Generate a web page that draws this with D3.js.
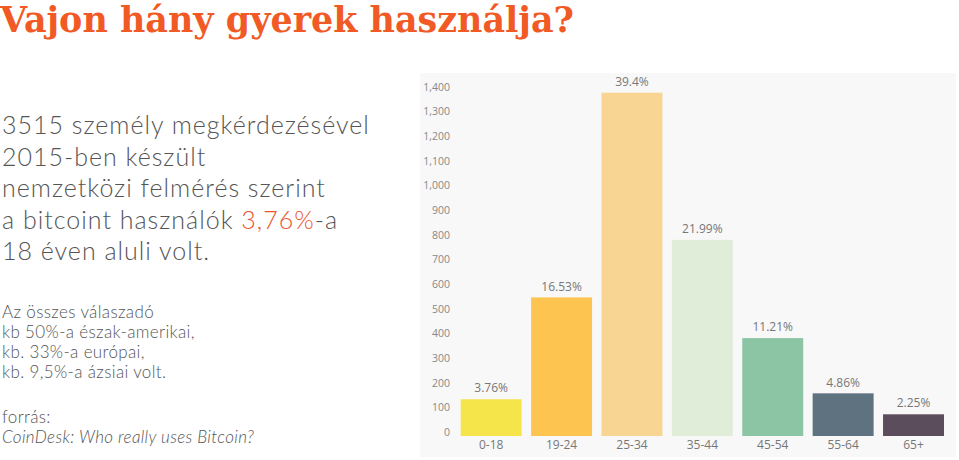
<!DOCTYPE html>
<html>
<head>
<meta charset="utf-8">
<script src="https://cdn.jsdelivr.net/npm/d3@7"></script>
<style>
  body { margin: 0; background: #fff; }
  svg { display: block; }
</style>
</head>
<body>
<svg width="959" height="460"></svg>
<script>
const ageGroups = ["0-18", "19-24", "25-34", "35-44", "45-54", "55-64", "65+"];
const respondents = [149, 562, 1392, 795, 397, 173, 88];
const shareLabels = ["3.76%", "16.53%", "39.4%", "21.99%", "11.21%", "4.86%", "2.25%"];
const barColors = ["#f5e54b", "#fdc54f", "#f9d594", "#e0edd8", "#8cc5a4", "#5f727f", "#5c4d5c"];
const yTicks = d3.range(0, 1401, 100);

const introLines = [
  ["3515 személy megkérdezésével"],
  ["2015-ben készült"],
  ["nemzetközi felmérés szerint"],
  ["a bitcoint használók ", "3,76%", "-a"],
  ["18 éven aluli volt."]
];
const regionLines = [
  "Az összes válaszadó",
  "kb 50%-a észak-amerikai,",
  "kb. 33%-a európai,",
  "kb. 9,5%-a ázsiai volt."
];

const svg = d3.select("svg");
const width = +svg.attr("width");
const height = +svg.attr("height");

// title
svg.append("text")
  .attr("x", 0)
  .attr("y", 32)
  .attr("textLength", 574)
  .attr("lengthAdjust", "spacingAndGlyphs")
  .style("font-family", "'DejaVu Serif'")
  .style("font-weight", "bold")
  .style("font-size", "35px")
  .attr("fill", "#f15a24")
  .text("Vajon hány gyerek használja?");

// left side text
const intro = svg.append("g")
  .style("font-family", "Lato, sans-serif")
  .style("font-weight", 300)
  .style("font-size", "25px")
  .style("letter-spacing", "1px")
  .attr("fill", "#555");

introLines.forEach((parts, i) => {
  const t = intro.append("text").attr("x", 2).attr("y", 134 + i * 31.5);
  parts.forEach((p, j) => {
    t.append("tspan")
      .attr("fill", parts.length > 1 && j === 1 ? "#e8552b" : null)
      .text(p);
  });
});

const notes = svg.append("g")
  .style("font-family", "Lato, sans-serif")
  .style("font-weight", 300)
  .style("font-size", "17px")
  .style("letter-spacing", "0.35px")
  .attr("fill", "#555");

regionLines.forEach((l, i) => {
  notes.append("text").attr("x", 2).attr("y", 318 + i * 20).text(l);
});
notes.append("text").attr("x", 2).attr("y", 423).text("forrás:");
notes.append("text").attr("x", 2).attr("y", 443)
  .style("font-style", "italic")
  .text("CoinDesk: Who really uses Bitcoin?");

// chart panel
svg.append("rect")
  .attr("x", 420).attr("y", 73)
  .attr("width", 536).attr("height", 384)
  .attr("fill", "#f8f8f8");

const x = d3.scaleBand()
  .domain(ageGroups)
  .range([460.7, 944])
  .paddingInner(0.134)
  .paddingOuter(0);

const y = d3.scaleLinear()
  .domain([0, 1400])
  .range([436, 90.7]);

const yAxis = d3.axisLeft(y).tickValues(yTicks).tickFormat(d3.format(",")).tickSize(0).tickPadding(4);
const xAxis = d3.axisBottom(x).tickSize(0);

const gy = svg.append("g")
  .attr("transform", "translate(454,0)")
  .call(yAxis);
gy.select(".domain").remove();
gy.selectAll("text")
  .attr("dy", "0.32em")
  .attr("y", -4)
  .attr("fill", "#888")
  .style("font-family", "'Open Sans', sans-serif")
  .style("font-size", "10.5px");

const gx = svg.append("g")
  .attr("transform", "translate(0,436)")
  .call(xAxis);
gx.select(".domain").remove();
gx.selectAll("text")
  .attr("y", 9)
  .attr("dy", "0.35em")
  .attr("fill", "#777")
  .style("font-family", "'Open Sans', sans-serif")
  .style("font-size", "12px");

svg.append("g").selectAll("rect")
  .data(respondents)
  .enter().append("rect")
  .attr("x", (d, i) => x(ageGroups[i]))
  .attr("y", d => y(d))
  .attr("width", x.bandwidth())
  .attr("height", d => y(0) - y(d))
  .attr("fill", (d, i) => barColors[i]);

svg.append("g").selectAll("text")
  .data(respondents)
  .enter().append("text")
  .attr("x", (d, i) => x(ageGroups[i]) + x.bandwidth() / 2)
  .attr("y", d => y(d) - 11)
  .attr("dy", "0.35em")
  .attr("text-anchor", "middle")
  .attr("fill", "#777")
  .style("font-family", "'Open Sans', sans-serif")
  .style("font-size", "12px")
  .text((d, i) => shareLabels[i]);
</script>
</body>
</html>
